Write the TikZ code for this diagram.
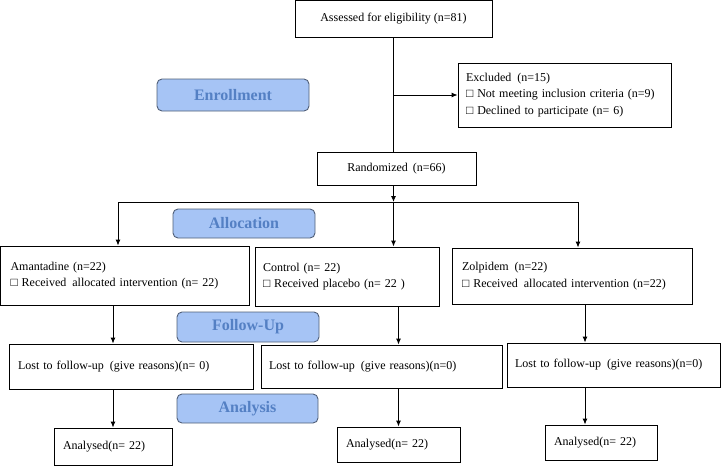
\documentclass[tikz,border=0pt]{standalone}
\usepackage{fontspec}
\setmainfont{Liberation Serif}
\usetikzlibrary{arrows.meta}
\definecolor{lblfill}{RGB}{166,196,245}
\definecolor{lbldraw}{RGB}{80,95,120}
\definecolor{lbltext}{RGB}{84,128,196}
\tikzset{
  box/.style={draw=black, line width=0.9pt, rectangle, inner sep=0pt, font=\fontsize{12}{16.5}\selectfont},
  lbl/.style={draw=lbldraw, fill=lblfill, line width=0.9pt, rounded corners=5pt, inner sep=0pt, text=lbltext, font=\fontsize{16}{18}\selectfont\bfseries},
  arr/.style={-{Latex[length=6pt,width=5pt]}, line width=0.9pt},
  ln/.style={line width=0.9pt}
}
\begin{document}
\begin{tikzpicture}[x=1pt,y=-1pt]
\useasboundingbox (0,0) rectangle (722,466);
% boxes
\node[box, minimum width=197pt, minimum height=37pt] (assess) at (393.5,19) {Assessed for eligibility (n=81)};
\node[box, minimum width=213pt, minimum height=64pt, text width=197pt, align=left] (excl) at (564.5,95) {Excluded\, (n=15)\\□ Not meeting inclusion criteria (n=9)\\□ Declined to participate (n= 6)};
\node[box, minimum width=159pt, minimum height=33pt] (rand) at (396.5,168.5) {Randomized\, (n=66)};
\node[box, minimum width=249pt, minimum height=59pt, text width=229pt, align=left] (aman) at (125,275.5) {Amantadine (n=22)\\□ Received\, allocated intervention (n= 22)};
\node[box, minimum width=184pt, minimum height=59pt, text width=168pt, align=left] (ctrl) at (347,276.5) {Control (n= 22)\\□ Received placebo (n= 22 )};
\node[box, minimum width=240pt, minimum height=56pt, text width=220pt, align=left] (zolp) at (572,276) {Zolpidem\, (n=22)\\□ Received\, allocated intervention (n=22)};
\node[box, minimum width=244pt, minimum height=45pt, text width=226pt, align=left] (lost1) at (131,366.5) {Lost to follow-up\, (give reasons)(n= 0)};
\node[box, minimum width=241pt, minimum height=43pt, text width=225pt, align=left] (lost2) at (381.5,366.5) {Lost to follow-up\, (give reasons)(n=0)};
\node[box, minimum width=213pt, minimum height=44pt, text width=198pt, align=left] (lost3) at (614,365) {Lost to follow-up\, (give reasons)(n=0)};
\node[box, minimum width=118pt, minimum height=37pt, text width=100pt, align=left] (an1) at (113,446.5) {Analysed(n= 22)};
\node[box, minimum width=123pt, minimum height=35pt, text width=105pt, align=left] (an2) at (398.5,444.5) {Analysed(n= 22)};
\node[box, minimum width=112pt, minimum height=35pt, text width=94pt, align=left] (an3) at (601,442.5) {Analysed(n= 22)};
% stage labels
\node[lbl, minimum width=152pt, minimum height=32pt] (enroll) at (233,95) {Enrollment};
\node[lbl, minimum width=142pt, minimum height=29pt] (alloc) at (244,223.5) {Allocation};
\node[lbl, minimum width=142pt, minimum height=30pt] (follow) at (248,327) {Follow-Up};
\node[lbl, minimum width=141pt, minimum height=29pt] (analysis) at (247.5,408.5) {Analysis};
% coordinates
\coordinate (j) at (393.5,202);
\coordinate (jl) at (118,202);
\coordinate (jr) at (578,202);
\coordinate (c3) at (585,0);
% connectors
\draw[ln] (assess.south) -- (assess.south |- rand.north);
\draw[arr] (assess.south |- excl.west) -- (excl.west);
\draw[arr] (j |- rand.south) -- (j);
\draw[ln] (jl) -- (jr);
\draw[arr] (jl) -- (aman.north -| jl);
\draw[arr] (j) -- (ctrl.north -| j);
\draw[arr] (jr) -- (zolp.north -| jr);
\draw[arr] (aman.south -| an1) -- (lost1.north -| an1);
\draw[arr] (lost1.south -| an1) -- (an1.north);
\draw[arr] (ctrl.south -| an2) -- (lost2.north -| an2);
\draw[arr] (lost2.south -| an2) -- (an2.north);
\draw[arr] (zolp.south -| c3) -- (lost3.north -| c3);
\draw[arr] (lost3.south -| c3) -- (an3.north -| c3);
\end{tikzpicture}
\end{document}
